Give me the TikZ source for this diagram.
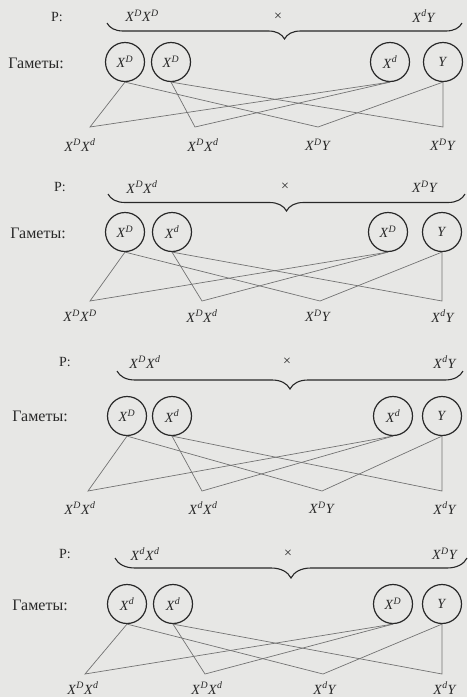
\documentclass[tikz,border=0pt]{standalone}
\usepackage{fontspec}
\setmainfont{Liberation Serif}
\usetikzlibrary{decorations.pathreplacing}
\definecolor{paper}{RGB}{231,231,229}
\definecolor{ink}{RGB}{40,40,40}
\definecolor{wire}{RGB}{115,115,115}
\newcommand\gX[1]{\textit{X}\textsuperscript{\textit{#1}}}
\newcommand\gY{\textit{Y}}
\tikzset{
  gam/.style={circle,draw=ink,line width=1.2pt,minimum size=39pt,inner sep=0pt,font=\fontsize{14}{14}\selectfont,text=ink},
  lbl/.style={font=\fontsize{14}{14}\selectfont,text=ink,inner sep=0pt},
  glbl/.style={font=\fontsize{16}{16}\selectfont,text=ink,inner sep=0pt},
  wireline/.style={draw=wire,line width=0.7pt},
  bracestyle/.style={draw=ink,line width=1.1pt,decorate,decoration={brace,mirror,amplitude=#1}},
}
\begin{document}
\begin{tikzpicture}[x=1pt,y=-1pt]
\fill[paper] (0,0) rectangle (467,697);
\useasboundingbox (0,0) rectangle (467,697);
% ---------------- Panel 1
\node[lbl] (p1P) at (57,17) {P:};
\node[lbl] (p1L) at (142,16) {\gX{D}\gX{D}};
\node[lbl] (p1x) at (278,17) {×};
\node[lbl] (p1R) at (424,16) {\gX{d}\gY};
\coordinate (p1b1) at (107,23);
\coordinate (p1b2) at (462,23);
\draw[bracestyle=16pt] (p1b1) -- (p1b2);
\node[glbl] (p1G) at (36,63) {Гаметы:};
\node[gam] (p1g1) at (125,62) {\gX{D}};
\node[gam] (p1g2) at (171,62) {\gX{D}};
\node[gam] (p1g3) at (390,62) {\gX{d}};
\node[gam] (p1g4) at (443,62) {\gY};
\coordinate (p1a1) at (90,127);
\coordinate (p1a2) at (195,127);
\coordinate (p1a3) at (318,127);
\coordinate (p1a4) at (443,127);
\draw[wireline] (p1g1.south) -- (p1a1) -- (p1g3.south);
\draw[wireline] (p1g2.south) -- (p1a2) -- (p1g3.south);
\draw[wireline] (p1g1.south) -- (p1a3) -- (p1g4.south);
\draw[wireline] (p1g2.south) -- (p1a4) -- (p1g4.south);
\node[lbl] (p1o1) at (80,145) {\gX{D}\gX{d}};
\node[lbl] (p1o2) at (203,145) {\gX{D}\gX{d}};
\node[lbl] (p1o3) at (318,145) {\gX{D}\gY};
\node[lbl] (p1o4) at (443,145) {\gX{D}\gY};
% ---------------- Panel 2
\node[lbl] (p2P) at (60,187) {P:};
\node[lbl] (p2L) at (142,187) {\gX{D}\gX{d}};
\node[lbl] (p2x) at (285,187) {×};
\node[lbl] (p2R) at (425,187) {\gX{D}\gY};
\coordinate (p2b1) at (108,194);
\coordinate (p2b2) at (465,194);
\draw[bracestyle=17pt] (p2b1) -- (p2b2);
\node[glbl] (p2G) at (38,233) {Гаметы:};
\node[gam] (p2g1) at (125,232) {\gX{D}};
\node[gam] (p2g2) at (172,232) {\gX{d}};
\node[gam] (p2g3) at (388,232) {\gX{D}};
\node[gam] (p2g4) at (442,232) {\gY};
\coordinate (p2a1) at (90,301);
\coordinate (p2a2) at (202,301);
\coordinate (p2a3) at (320,301);
\coordinate (p2a4) at (442,301);
\draw[wireline] (p2g1.south) -- (p2a1) -- (p2g3.south);
\draw[wireline] (p2g2.south) -- (p2a2) -- (p2g3.south);
\draw[wireline] (p2g1.south) -- (p2a3) -- (p2g4.south);
\draw[wireline] (p2g2.south) -- (p2a4) -- (p2g4.south);
\node[lbl] (p2o1) at (80,316) {\gX{D}\gX{D}};
\node[lbl] (p2o2) at (202,316) {\gX{D}\gX{d}};
\node[lbl] (p2o3) at (318,316) {\gX{D}\gY};
\node[lbl] (p2o4) at (443,316) {\gX{d}\gY};
% ---------------- Panel 3
\node[lbl] (p3P) at (65,362) {P:};
\node[lbl] (p3L) at (145,362) {\gX{D}\gX{d}};
\node[lbl] (p3x) at (287,362) {×};
\node[lbl] (p3R) at (445,362) {\gX{d}\gY};
\coordinate (p3b1) at (117,371);
\coordinate (p3b2) at (463,371);
\draw[bracestyle=18pt] (p3b1) -- (p3b2);
\node[glbl] (p3G) at (40,416) {Гаметы:};
\node[gam] (p3g1) at (127,416) {\gX{D}};
\node[gam] (p3g2) at (172,416) {\gX{d}};
\node[gam] (p3g3) at (393,416) {\gX{d}};
\node[gam] (p3g4) at (442,416) {\gY};
\coordinate (p3a1) at (88,491);
\coordinate (p3a2) at (202,491);
\coordinate (p3a3) at (322,491);
\coordinate (p3a4) at (442,491);
\draw[wireline] (p3g1.south) -- (p3a1) -- (p3g3.south);
\draw[wireline] (p3g2.south) -- (p3a2) -- (p3g3.south);
\draw[wireline] (p3g1.south) -- (p3a3) -- (p3g4.south);
\draw[wireline] (p3g2.south) -- (p3a4) -- (p3g4.south);
\node[lbl] (p3o1) at (80,508) {\gX{D}\gX{d}};
\node[lbl] (p3o2) at (203,508) {\gX{d}\gX{d}};
\node[lbl] (p3o3) at (322,508) {\gX{D}\gY};
\node[lbl] (p3o4) at (445,508) {\gX{d}\gY};
% ---------------- Panel 4
\node[lbl] (p4P) at (65,554) {P:};
\node[lbl] (p4L) at (145,554) {\gX{d}\gX{d}};
\node[lbl] (p4x) at (288,554) {×};
\node[lbl] (p4R) at (445,554) {\gX{D}\gY};
\coordinate (p4b1) at (115,558);
\coordinate (p4b2) at (467,558);
\draw[bracestyle=20pt] (p4b1) -- (p4b2);
\node[glbl] (p4G) at (40,605) {Гаметы:};
\node[gam] (p4g1) at (127,604) {\gX{d}};
\node[gam] (p4g2) at (173,604) {\gX{d}};
\node[gam] (p4g3) at (393,604) {\gX{D}};
\node[gam] (p4g4) at (442,604) {\gY};
\coordinate (p4a1) at (85,674);
\coordinate (p4a2) at (205,674);
\coordinate (p4a3) at (323,674);
\coordinate (p4a4) at (442,674);
\draw[wireline] (p4g1.south) -- (p4a1) -- (p4g3.south);
\draw[wireline] (p4g2.south) -- (p4a2) -- (p4g3.south);
\draw[wireline] (p4g1.south) -- (p4a3) -- (p4g4.south);
\draw[wireline] (p4g2.south) -- (p4a4) -- (p4g4.south);
\node[lbl] (p4o1) at (83,688) {\gX{D}\gX{d}};
\node[lbl] (p4o2) at (207,688) {\gX{D}\gX{d}};
\node[lbl] (p4o3) at (325,688) {\gX{d}\gY};
\node[lbl] (p4o4) at (445,688) {\gX{d}\gY};
\end{tikzpicture}
\end{document}
